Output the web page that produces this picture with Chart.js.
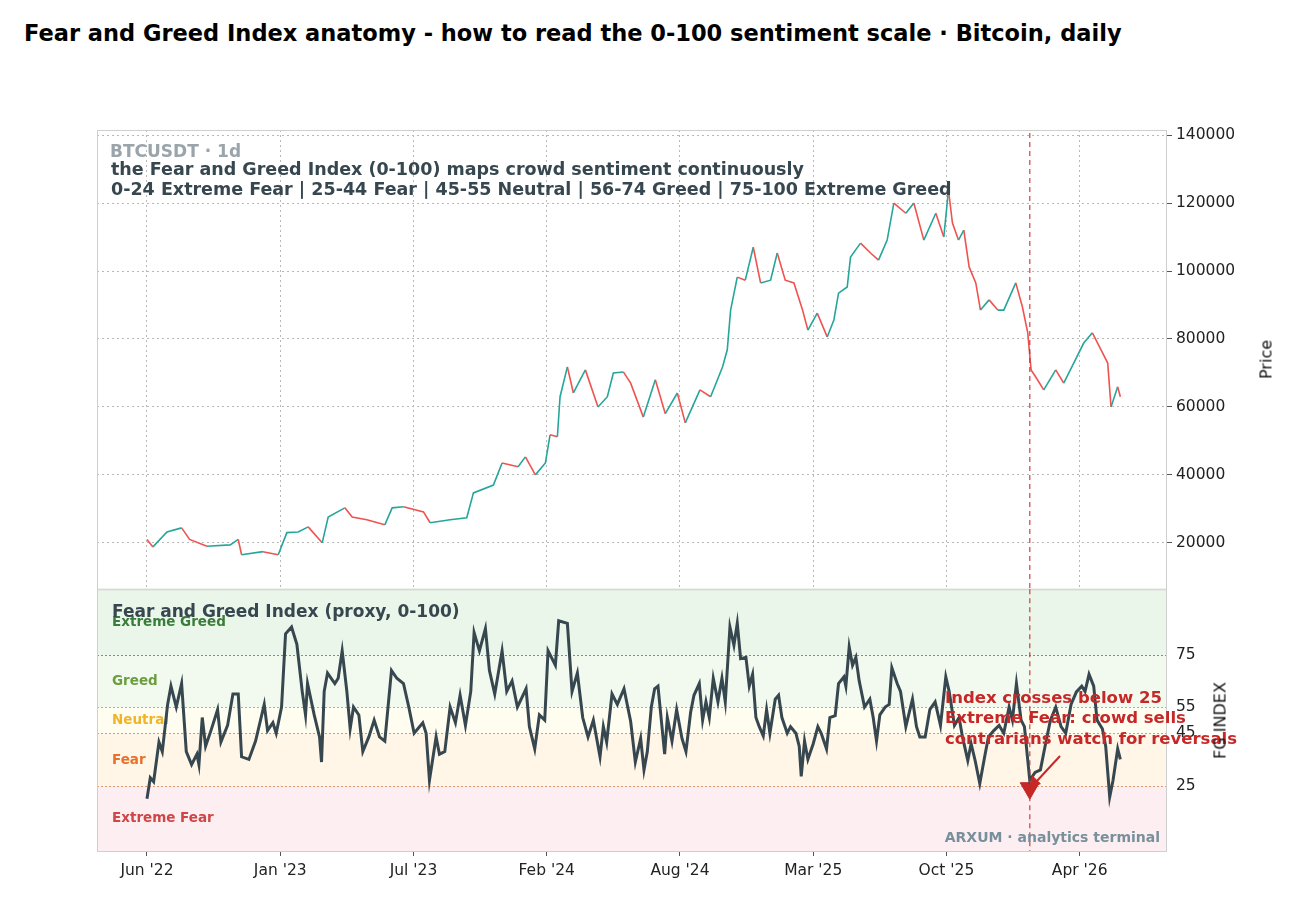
<!DOCTYPE html>
<html>
<head>
<meta charset="utf-8">
<script src="https://cdn.jsdelivr.net/npm/chart.js@4.4.0/dist/chart.umd.min.js"></script>
<style>
  body { margin: 0; background: #fff; font-family: "DejaVu Sans", sans-serif; }
  #wrap { position: relative; width: 1299px; height: 905px; }
  #title { position: absolute; left: 24px; top: 20px; font-size: 22.5px; font-weight: bold; color: #000; }
  canvas { position: absolute; left: 0; }
  .axt { position: absolute; font-size: 16px; color: #111; transform: rotate(-90deg); transform-origin: center; white-space: nowrap; }
</style>
</head>
<body>
<div id="wrap">
  <div id="title">Fear and Greed Index anatomy - how to read the 0-100 sentiment scale · Bitcoin, daily</div>
  <canvas id="priceChart" style="top:0" width="1299" height="602"></canvas>
  <canvas id="fgChart" style="top:576px" width="1299" height="329"></canvas>
  <div class="axt" style="left:1244px; top:350px; width:44px; text-align:center;">Price</div>
  <div class="axt" style="left:1180px; top:711px; width:80px; text-align:center;">FG INDEX</div>
</div>
<script>
// days counted from 1 Jun 2022
const tickDays = [0, 200, 400, 600, 800, 1000, 1200, 1400];
const tickLabels = ["Jun '22", "Jan '23", "Jul '23", "Feb '24", "Aug '24", "Mar '25", "Oct '25", "Apr '26"];

const priceDays = [0, 9, 30, 52, 64, 90, 125, 137, 142, 174, 197, 210, 227, 242, 263, 272, 297, 308, 330, 357,
  368, 385, 415, 425, 455, 480, 490, 520, 533, 557, 568, 583, 598, 605, 616, 620, 631, 640, 658, 677,
  691, 700, 715, 726, 745, 763, 778, 796, 808, 830, 846, 864, 871, 876, 886, 898, 910, 921, 936, 946,
  958, 971, 984, 992, 1006, 1021, 1031, 1038, 1051, 1056, 1071, 1086, 1098, 1111, 1121, 1139, 1151, 1166, 1184, 1196,
  1203, 1209, 1218, 1226, 1234, 1244, 1251, 1264, 1277, 1286, 1304, 1314, 1322, 1327, 1334, 1346, 1364, 1376, 1391, 1406,
  1419, 1432, 1442, 1447, 1457, 1461];
const priceClose = [21000, 18800, 23200, 24400, 21000, 19000, 19400, 21000, 16500, 17400, 16500, 23000, 23200, 24700, 20000, 27600, 30300, 27600, 26800, 25300,
  30300, 30600, 29100, 25900, 26800, 27400, 34700, 37000, 43500, 42400, 45300, 40000, 43500, 51800, 51200, 63000, 71800, 64100, 70900, 60000,
  63000, 70000, 70300, 67000, 57000, 68000, 58000, 64100, 55300, 65000, 63000, 71800, 76800, 88500, 98200, 97300, 107000, 96500, 97300, 105300,
  97300, 96500, 88500, 82600, 87600, 80600, 85600, 93500, 95300, 104100, 108200, 105300, 103200, 109100, 120000, 117000, 120000, 109100, 117000, 110000,
  123800, 114100, 109100, 112000, 101200, 96500, 88500, 91500, 88500, 88500, 96500, 89400, 81800, 70900, 68800, 65000, 70900, 67000, 72900, 78800,
  81800, 76800, 72900, 60000, 65900, 63000];
const priceTicks = [20000, 40000, 60000, 80000, 100000, 120000, 140000];

const fgDays = [0, 5, 10, 18, 23, 31, 36, 44, 52, 59, 67, 75, 78, 83, 88, 96, 106, 111, 121, 129,
  137, 142, 153, 163, 176, 181, 189, 194, 202, 208, 217, 225, 233, 238, 241, 251, 259, 262, 266, 271,
  282, 287, 293, 300, 305, 310, 318, 324, 333, 341, 349, 357, 367, 375, 385, 393, 401, 414, 419, 424,
  434, 439, 447, 455, 463, 470, 478, 486, 491, 499, 508, 514, 522, 533, 540, 548, 556, 569, 574, 582,
  589, 597, 602, 613, 618, 631, 638, 646, 654, 662, 670, 680, 685, 690, 698, 706, 716,
  726, 733, 741, 746, 751, 757, 762, 767, 772, 777, 781, 788, 795, 803, 809, 816, 821, 829, 834, 839,
  844, 850, 857, 863, 868, 875, 881, 886, 891, 899, 904, 909, 914, 919, 925, 930, 935, 943, 948, 953,
  961, 966, 974, 979, 982, 987, 992, 1000, 1007, 1012, 1020, 1025, 1033, 1038, 1046, 1049, 1054, 1059, 1064, 1069,
  1077, 1085, 1090, 1095, 1100, 1108, 1114, 1118, 1126, 1131, 1139, 1149, 1155, 1160, 1168, 1175, 1183, 1191, 1199, 1204,
  1212, 1219, 1224, 1232, 1237, 1243, 1250, 1258, 1263, 1271, 1279, 1286, 1294, 1299, 1305, 1312, 1317, 1325, 1333, 1341,
  1348, 1356, 1364, 1372, 1379, 1387, 1395, 1403, 1408, 1414, 1421, 1426, 1434, 1439, 1445, 1450, 1457, 1461];
const fgValues = [20, 28, 26.5, 41.6, 38, 56, 63, 55, 64, 38, 33, 37, 33, 51, 40, 46, 54, 41.6, 48, 60,
  60, 36, 35, 42, 56, 46, 49, 45, 55, 83, 85.6, 79, 61, 52, 64, 52, 43.6, 34, 61, 68,
  64, 66, 76.5, 61, 46.7, 55, 52, 38, 43.6, 50, 43.6, 42, 69, 66, 64, 55, 45, 49, 45, 27,
  43.6, 37, 38, 55, 49, 59.5, 48, 61, 83.5, 76.5, 85, 69, 60, 76.5, 61, 65, 55, 62, 47.5, 39,
  52, 50, 76.5, 71, 88, 87, 61, 68, 51, 43.6, 50, 36, 47.5, 41.6, 60, 56, 62,
  49.5, 34, 43, 31, 38, 55, 62, 63, 50, 37, 51, 42, 54, 43, 38, 53, 59.5, 64, 50, 57,
  51, 66, 57, 66, 57, 85.6, 78.6, 87, 73.5, 74, 63, 67.5, 51, 47.5, 44, 54, 45, 58, 59.5, 51,
  45, 47.5, 45, 40, 28.5, 42, 35, 41, 47.5, 45, 39, 51, 51.7, 64, 66.5, 63, 78, 71, 74, 65,
  55, 58, 51, 42, 52, 55, 56, 70, 64, 61, 47.5, 58, 47.5, 43.6, 43.6, 54, 57, 48, 66.5, 61,
  48, 51, 43.6, 34.6, 41, 34.6, 25.8, 37, 43.6, 46, 48, 45, 55, 50, 64, 50, 47.5, 27, 30, 31,
  40, 50, 55, 47.5, 45, 56, 60.8, 63, 61, 67.5, 63, 50, 46.7, 40, 20.6, 27, 39, 35];

const bandEdges = [0, 25, 45, 55, 75, 100];
const bandNames = ["Extreme Fear", "Fear", "Neutral", "Greed", "Extreme Greed"];
const bandFill = ["#fdeef1", "#fff6e8", "#fffdf0", "#f2f9ee", "#eaf6ea"];
const bandText = ["#d04545", "#e8702a", "#f0b429", "#6a9e3f", "#3a7d3a"];
const fgTicks = [25, 45, 55, 75];

const signalDay = 1325;
const signalValue = 24;

const X_MIN = -75, X_MAX = 1531;
const UP = '#26a69a', DOWN = '#ef5350', GRID = '#b8b8b8';
const FG_TOP = 576; // canvas offset of the lower panel

Chart.defaults.font.family = 'DejaVu Sans';

const xScale = (showTicks) => ({
  type: 'linear', min: X_MIN, max: X_MAX,
  afterBuildTicks: s => { s.ticks = tickDays.map(v => ({ value: v })); },
  ticks: {
    display: showTicks, color: '#222', font: { size: 15.5 }, padding: 6,
    callback: v => tickLabels[tickDays.indexOf(v)]
  },
  grid: { color: GRID, drawTicks: showTicks, tickLength: 5, tickColor: '#555' },
  border: { display: false, dash: [2, 3] },
  afterFit: s => { s.height = showTicks ? 54 : 0; }
});

const framePlugin = {
  id: 'frame',
  afterDraw(chart) {
    const { ctx, chartArea: a, scales } = chart;
    ctx.save();
    ctx.strokeStyle = '#cfcfcf'; ctx.lineWidth = 1;
    ctx.strokeRect(a.left + 0.5, a.top + 0.5, a.width - 1, a.height);
    const x = scales.x.getPixelForValue(signalDay);
    ctx.strokeStyle = 'rgba(198,40,40,0.7)'; ctx.lineWidth = 1.5; ctx.setLineDash([5, 4]);
    ctx.beginPath(); ctx.moveTo(x, a.top + (chart.canvas.id === 'priceChart' ? 3 : 0)); ctx.lineTo(x, a.bottom); ctx.stroke();
    ctx.restore();
  }
};

const priceText = {
  id: 'priceText',
  afterDraw(chart) {
    const { ctx, chartArea: a } = chart;
    ctx.save();
    ctx.textBaseline = 'middle';
    ctx.font = 'bold 17px DejaVu Sans'; ctx.fillStyle = '#9aa4ab';
    ctx.fillText('BTCUSDT · 1d', a.left + 13, 153);
    ctx.font = 'bold 17.5px DejaVu Sans'; ctx.fillStyle = '#37474f';
    ctx.fillText('the Fear and Greed Index (0-100) maps crowd sentiment continuously', a.left + 14, 170);
    ctx.fillText('0-24 Extreme Fear | 25-44 Fear | 45-55 Neutral | 56-74 Greed | 75-100 Extreme Greed', a.left + 14, 190);
    ctx.restore();
  }
};

const bandsPlugin = {
  id: 'bands',
  beforeDatasetsDraw(chart) {
    const { ctx, chartArea: a, scales: { y } } = chart;
    ctx.save();
    for (let i = 0; i < bandNames.length; i++) {
      const top = y.getPixelForValue(bandEdges[i + 1]), bot = y.getPixelForValue(bandEdges[i]);
      ctx.fillStyle = bandFill[i];
      ctx.fillRect(a.left, top, a.width, bot - top);
    }
    ctx.setLineDash([2, 2]); ctx.lineWidth = 1;
    fgTicks.forEach(v => {
      const p = Math.round(y.getPixelForValue(v)) + 0.5;
      ctx.strokeStyle = v === 75 ? '#888' : (v === 55 ? '#c9a96a' : '#d99a70');
      ctx.beginPath(); ctx.moveTo(a.left, p); ctx.lineTo(a.right, p); ctx.stroke();
    });
    ctx.setLineDash([]);
    ctx.font = 'bold 13.5px DejaVu Sans'; ctx.textBaseline = 'middle';
    const labelY = [818, 760, 720, 681, 622];
    bandNames.forEach((n, i) => { ctx.fillStyle = bandText[i]; ctx.fillText(n, a.left + 15, labelY[i] - FG_TOP); });
    ctx.restore();
  },
  afterDraw(chart) {
    const { ctx, chartArea: a } = chart;
    const o = FG_TOP;
    ctx.save();
    ctx.textBaseline = 'middle';
    ctx.font = 'bold 17px DejaVu Sans'; ctx.fillStyle = '#37474f';
    ctx.fillText('Fear and Greed Index (proxy, 0-100)', a.left + 15, 613 - o);
    ctx.font = 'bold 14px DejaVu Sans'; ctx.fillStyle = '#78909c'; ctx.textAlign = 'right';
    ctx.fillText('ARXUM · analytics terminal', a.right - 7, 838 - o);
    ctx.textAlign = 'left'; ctx.font = 'bold 16.5px DejaVu Sans'; ctx.fillStyle = '#c62828';
    ctx.fillText('Index crosses below 25', 945, 699 - o);
    ctx.fillText('Extreme Fear: crowd sells', 945, 719 - o);
    ctx.fillText('contrarians watch for reversals', 945, 740 - o);
    ctx.strokeStyle = '#c62828'; ctx.lineWidth = 2;
    ctx.beginPath(); ctx.moveTo(1060, 756 - o); ctx.lineTo(1036, 782 - o); ctx.stroke();
    ctx.beginPath(); ctx.moveTo(1030, 788 - o); ctx.lineTo(1032, 775 - o); ctx.lineTo(1041, 784 - o); ctx.closePath();
    ctx.fillStyle = '#c62828'; ctx.fill();
    ctx.restore();
  }
};

const pricePoints = priceDays.map((d, i) => ({ x: d, y: priceClose[i] }));
new Chart(document.getElementById('priceChart'), {
  type: 'line',
  data: {
    datasets: [{
      data: pricePoints, borderWidth: 1.6, pointRadius: 0, tension: 0,
      borderColor: UP,
      segment: { borderColor: c => c.p1.parsed.y >= c.p0.parsed.y ? UP : DOWN }
    }]
  },
  options: {
    responsive: false, animation: false, parsing: false,
    layout: { padding: { left: 97, top: 130, right: 0, bottom: 0 } },
    plugins: { legend: { display: false }, tooltip: { enabled: false } },
    scales: {
      x: xScale(false),
      y: {
        position: 'right', min: 6500, max: 141500,
        afterBuildTicks: s => { s.ticks = priceTicks.map(v => ({ value: v })); },
        ticks: { color: '#222', font: { size: 15.5 }, padding: 4, callback: v => String(v) },
        grid: { color: GRID, tickLength: 5, tickColor: '#555' },
        border: { display: false, dash: [2, 3] },
        afterFit: s => { s.width = 132; }
      }
    }
  },
  plugins: [framePlugin, priceText]
});

new Chart(document.getElementById('fgChart'), {
  type: 'line',
  data: {
    datasets: [
      {
        data: fgDays.map((d, i) => ({ x: d, y: fgValues[i] })),
        borderColor: '#37474f', borderWidth: 3, pointRadius: 0, tension: 0
      },
      {
        type: 'scatter',
        data: [{ x: signalDay, y: signalValue }],
        pointStyle: 'triangle', rotation: 180, pointRadius: 11,
        backgroundColor: '#c62828', borderColor: '#c62828'
      }
    ]
  },
  options: {
    responsive: false, animation: false, parsing: false,
    layout: { padding: { left: 97, top: 13, right: 0, bottom: 0 } },
    plugins: { legend: { display: false }, tooltip: { enabled: false } },
    scales: {
      x: xScale(true),
      y: {
        position: 'right', min: 0, max: 100,
        afterBuildTicks: s => { s.ticks = fgTicks.map(v => ({ value: v })); },
        ticks: { color: '#222', font: { size: 15.5 }, padding: 4 },
        grid: { display: false, drawTicks: true, tickLength: 5 },
        border: { display: false },
        afterFit: s => { s.width = 132; }
      }
    }
  },
  plugins: [framePlugin, bandsPlugin]
});
</script>
</body>
</html>
